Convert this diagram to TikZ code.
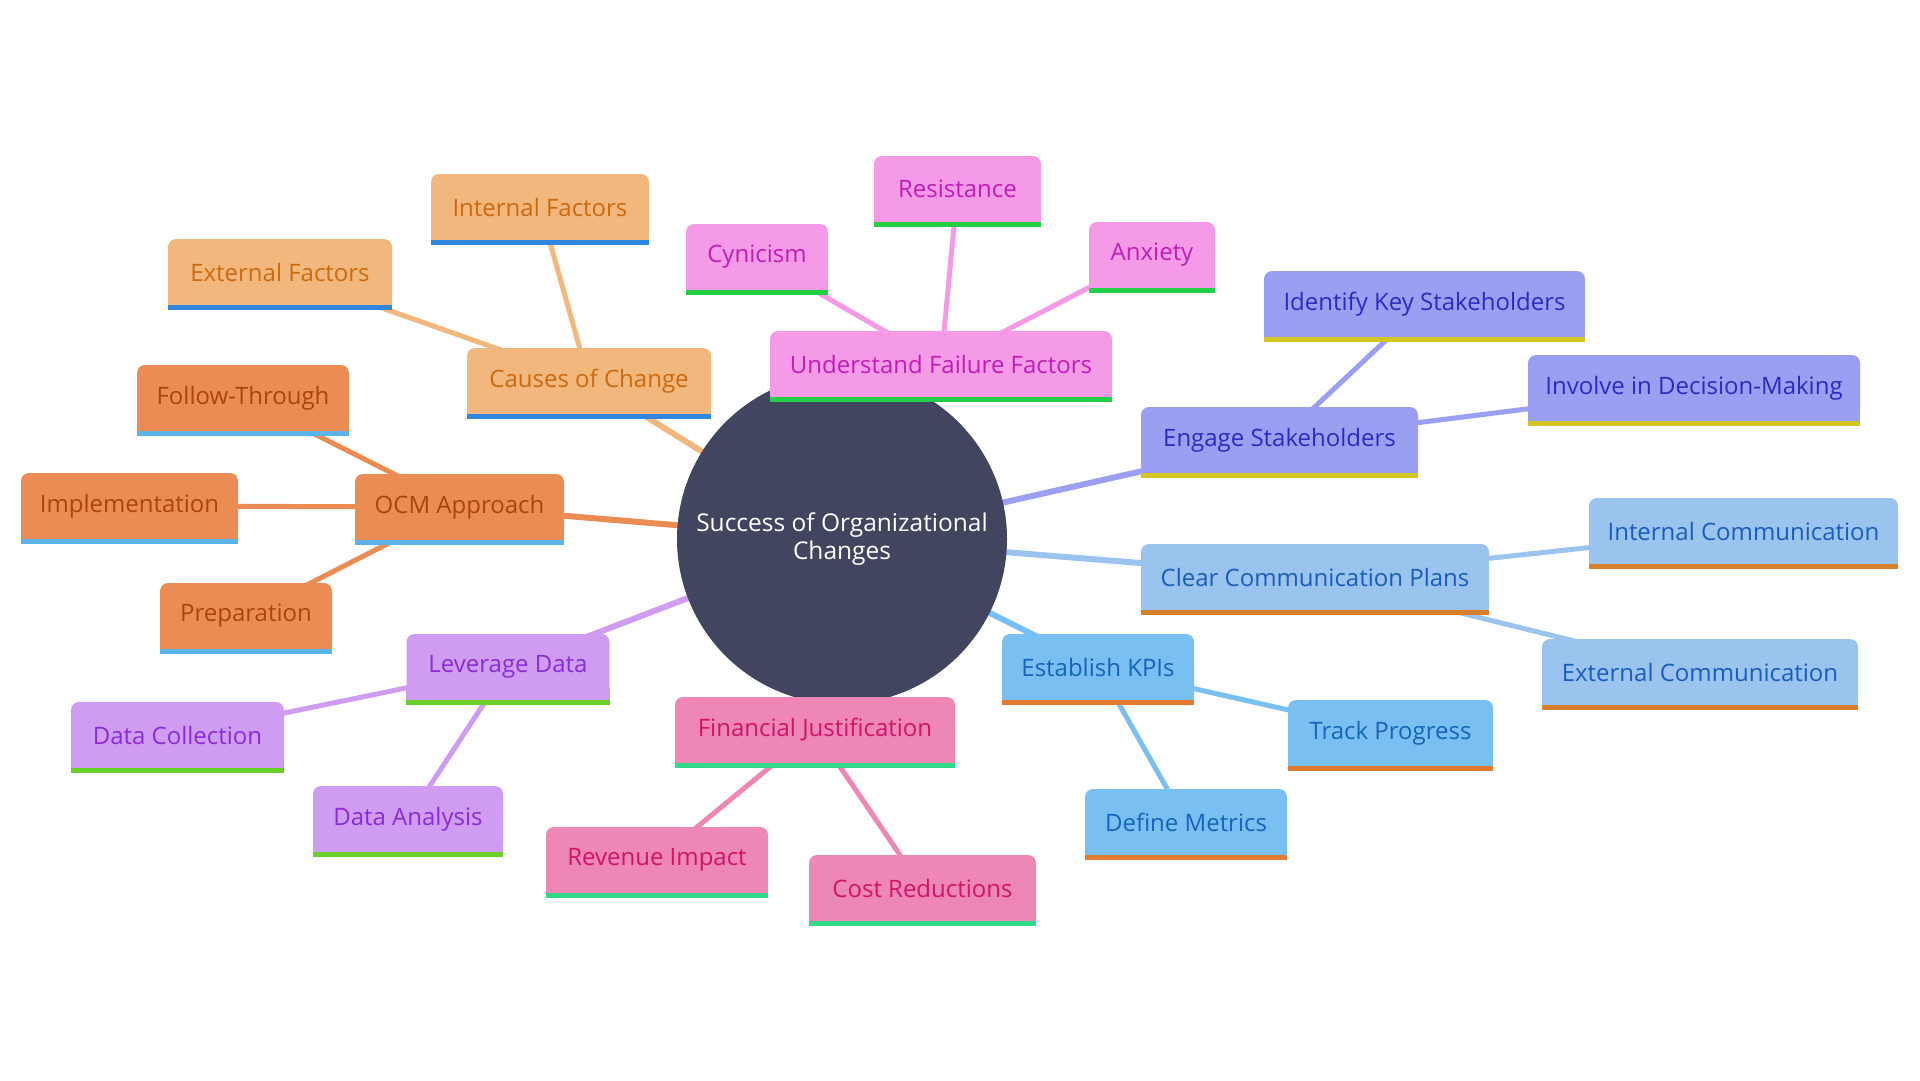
\documentclass[tikz,border=0pt]{standalone}
\usepackage{fontspec}
\setmainfont{Open Sans}
\pgfdeclarelayer{bg}
\pgfsetlayers{bg,main}
\definecolor{rootc}{HTML}{414560}
% branch colours: fill, text, underline
\definecolor{cauF}{HTML}{F2B77D}\definecolor{cauT}{HTML}{CC6A10}\definecolor{cauU}{HTML}{2F86DE}
\definecolor{ocmF}{HTML}{EC8C55}\definecolor{ocmT}{HTML}{A8460B}\definecolor{ocmU}{HTML}{5AB4EA}
\definecolor{faiF}{HTML}{F49AE6}\definecolor{faiT}{HTML}{C21DB5}\definecolor{faiU}{HTML}{22CF45}
\definecolor{engF}{HTML}{9B9FF2}\definecolor{engT}{HTML}{2B2BC4}\definecolor{engU}{HTML}{D2C524}
\definecolor{cleF}{HTML}{9AC3EE}\definecolor{cleT}{HTML}{1A5DBE}\definecolor{cleU}{HTML}{D77F2A}
\definecolor{kpiF}{HTML}{7ABFF1}\definecolor{kpiT}{HTML}{1565B8}\definecolor{kpiU}{HTML}{E27B30}
\definecolor{finF}{HTML}{EE86B6}\definecolor{finT}{HTML}{D0146A}\definecolor{finU}{HTML}{33D98B}
\definecolor{levF}{HTML}{CF9CF2}\definecolor{levT}{HTML}{8A2BD8}\definecolor{levU}{HTML}{69D02A}
\newcommand\mmbox[8]{%
  \node[mmb, fill=#6, text=#7, minimum width=#4pt] (#1) at (#2,#3+33) {#5};
  \fill[#6] ([yshift=12pt]#1.south west) rectangle (#1.south east);
  \fill[#8] (#1.south west) rectangle ([yshift=-5pt]#1.south east);
}
\tikzset{
  mmb/.style={rectangle, rounded corners=8pt, minimum height=66pt, inner sep=0pt,
    font=\fontsize{24}{28}\selectfont, align=center},
  rootnode/.style={circle, fill=rootc, minimum size=330pt, inner sep=0pt, text=white,
    font=\fontsize{24.5}{28}\selectfont, align=center},
  mainedge/.style={line width=6pt},
  leafedge/.style={line width=5pt}
}
\begin{document}
\begin{tikzpicture}[x=1pt,y=-1pt]
\useasboundingbox (0,0) rectangle (1920,1080);
\node[rootnode] (root) at (842,539) {Success of Organizational\\Changes};
% Causes of Change
\mmbox{cau}{589}{348}{244}{Causes of Change}{cauF}{cauT}{cauU}
\mmbox{intf}{540}{174}{218}{Internal Factors}{cauF}{cauT}{cauU}
\mmbox{extf}{280}{239}{224}{External Factors}{cauF}{cauT}{cauU}
% OCM
\mmbox{ocm}{459.5}{474}{209}{OCM Approach}{ocmF}{ocmT}{ocmU}
\mmbox{fol}{243}{365}{212}{Follow-Through}{ocmF}{ocmT}{ocmU}
\mmbox{imp}{129.5}{473}{217}{Implementation}{ocmF}{ocmT}{ocmU}
\mmbox{pre}{246}{583}{172}{Preparation}{ocmF}{ocmT}{ocmU}
% Leverage data
\mmbox{lev}{508}{634}{203}{Leverage Data}{levF}{levT}{levU}
\mmbox{dcol}{177.5}{702}{213}{Data Collection}{levF}{levT}{levU}
\mmbox{dana}{408}{786}{190}{Data Analysis}{levF}{levT}{levU}
% Financial
\mmbox{fin}{815}{697}{280}{Financial Justification}{finF}{finT}{finU}
\mmbox{rev}{657}{827}{222}{Revenue Impact}{finF}{finT}{finU}
\mmbox{cost}{922.5}{855}{227}{Cost Reductions}{finF}{finT}{finU}
% Failure
\mmbox{fai}{941}{331}{342}{Understand Failure Factors}{faiF}{faiT}{faiU}
\mmbox{cyn}{757}{224}{142}{Cynicism}{faiF}{faiT}{faiU}
\mmbox{res}{957.5}{156}{167}{Resistance}{faiF}{faiT}{faiU}
\mmbox{anx}{1152}{222}{126}{Anxiety}{faiF}{faiT}{faiU}
% Engage
\mmbox{eng}{1279.5}{407}{277}{Engage Stakeholders}{engF}{engT}{engU}
\mmbox{idk}{1424.5}{271}{321}{Identify Key Stakeholders}{engF}{engT}{engU}
\mmbox{inv}{1694}{355}{332}{Involve in Decision-Making}{engF}{engT}{engU}
% Clear communication
\mmbox{cle}{1315}{544}{348}{Clear Communication Plans}{cleF}{cleT}{cleU}
\mmbox{icom}{1743.5}{498}{309}{Internal Communication}{cleF}{cleT}{cleU}
\mmbox{ecom}{1700}{639}{316}{External Communication}{cleF}{cleT}{cleU}
% KPIs
\mmbox{kpi}{1098}{634}{192}{Establish KPIs}{kpiF}{kpiT}{kpiU}
\mmbox{trk}{1390.5}{700}{205}{Track Progress}{kpiF}{kpiT}{kpiU}
\mmbox{def}{1186}{789}{202}{Define Metrics}{kpiF}{kpiT}{kpiU}
\begin{pgfonlayer}{bg}
\fill[white] (0,0) rectangle (1920,1080);
\draw[mainedge, cauF] (root.center) -- (cau.center);
\draw[leafedge, cauF] (cau.center) -- (intf.center);
\draw[leafedge, cauF] (cau.center) -- (extf.center);
\draw[mainedge, ocmF] (root.center) -- (ocm.center);
\draw[leafedge, ocmF] (ocm.center) -- (fol.center);
\draw[leafedge, ocmF] (ocm.center) -- (imp.center);
\draw[leafedge, ocmF] (ocm.center) -- (pre.center);
\draw[mainedge, levF] (root.center) -- (lev.center);
\draw[leafedge, levF] (lev.center) -- (dcol.center);
\draw[leafedge, levF] (lev.center) -- (dana.center);
\draw[mainedge, finF] (root.center) -- (fin.center);
\draw[leafedge, finF] (fin.center) -- (rev.center);
\draw[leafedge, finF] (fin.center) -- (cost.center);
\draw[mainedge, faiF] (root.center) -- (fai.center);
\draw[leafedge, faiF] (fai.center) -- (cyn.center);
\draw[leafedge, faiF] (fai.center) -- (res.center);
\draw[leafedge, faiF] (fai.center) -- (anx.center);
\draw[mainedge, engF] (root.center) -- (eng.center);
\draw[leafedge, engF] (eng.center) -- (idk.center);
\draw[leafedge, engF] (eng.center) -- (inv.center);
\draw[mainedge, cleF] (root.center) -- (cle.center);
\draw[leafedge, cleF] (cle.center) -- (icom.center);
\draw[leafedge, cleF] (cle.center) -- (ecom.center);
\draw[mainedge, kpiF] (root.center) -- (kpi.center);
\draw[leafedge, kpiF] (kpi.center) -- (trk.center);
\draw[leafedge, kpiF] (kpi.center) -- (def.center);
\end{pgfonlayer}
\end{tikzpicture}
\end{document}
